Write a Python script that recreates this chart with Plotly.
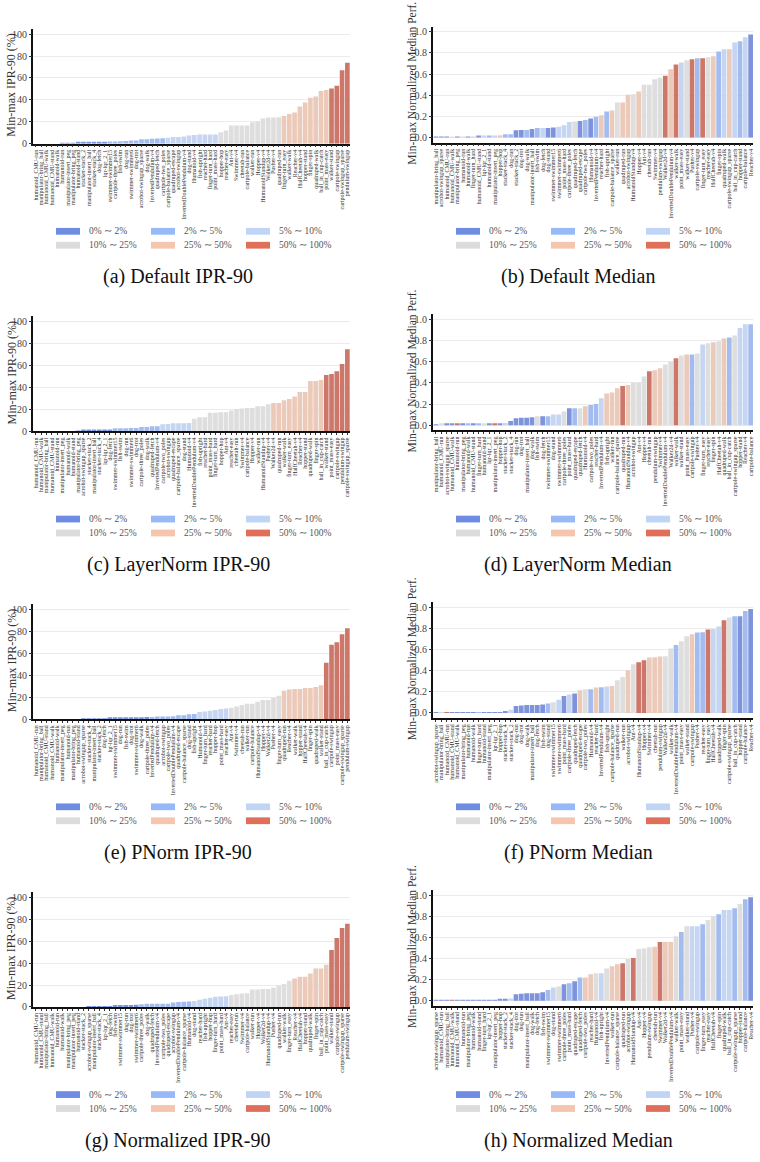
import plotly.graph_objects as go

W, H = 760, 1162
FONT = "Liberation Serif"

BUCKET_NAMES = ["0% \u223c 2%", "2% \u223c 5%", "5% \u223c 10%",
                "10% \u223c 25%", "25% \u223c 50%", "50% \u223c 100%"]
BUCKET_EDGES = [2, 5, 10, 25, 50]
BAR_COLORS = ["#7d93db", "#a3bcef", "#c6d6f2", "#dedede", "#ebcaba", "#cc7769"]
LEGEND_COLORS = ["#6e8de2", "#98b9f8", "#c0d4f5", "#dcdcdc", "#f5c5ad", "#e06f5a"]

# ---------------- (a) Default IPR-90 ----------------
A_LABELS = ["humanoid_CMU-run","manipulator-bring_ball","humanoid_CMU-walk","humanoid_CMU-stand","humanoid-walk","humanoid-run","manipulator-insert_peg","manipulator-bring_peg","humanoid-stand","stacker-stack_2","manipulator-insert_ball","stacker-stack_4","dog-fetch","lqr-lqr_2_1","swimmer-swimmer15","cartpole-three_poles","fish-swim","dog-run","swimmer-swimmer6","dog-trot","acrobot-swingup_sparse","dog-walk","InvertedPendulum-v4","quadruped-fetch","cartpole-two_poles","cartpole-balance_sparse","quadruped-escape","acrobot-swingup","InvertedDoublePendulum-v4","dog-stand","Humanoid-v4","fish-upright","reacher-hard","finger-turn_hard","point_mass-hard","hopper-hop","reacher-easy","Ant-v4","Swimmer-v4","cheetah-run","cartpole-balance","walker-run","Hopper-v4","HumanoidStandup-v4","Walker2d-v4","Pusher-v4","quadruped-run","finger-turn_easy","walker-walk","Reacher-v4","HalfCheetah-v4","hopper-stand","finger-spin","quadruped-walk","ball_in_cup-catch","point_mass-easy","walker-stand","cartpole-swingup","cartpole-swingup_sparse","pendulum-swingup"]
A_VALS = [0, 0, 0, 0, 0, 0.2, 0.3, 0.5, 1, 1, 1, 1, 1.2, 1.3,
          2, 2.1, 2.3, 2.5, 3, 3, 4, 4, 4.5, 4.8, 4.9,
          5.5, 6, 6, 6.5, 7.5, 8, 8.3, 8.3, 8.3, 8.3,
          10.5, 12, 16.5, 16.5, 16.5, 16.6, 19.5, 20.5, 23, 24, 24, 24.2,
          25.2, 27, 28.5, 34, 37.5, 42, 43, 48, 49,
          50.3, 53, 67, 74]

# ---------------- (b) Default Median ----------------
B_LABELS = ["manipulator-bring_ball","acrobot-swingup_sparse","humanoid_CMU-run","humanoid_CMU-walk","manipulator-bring_peg","humanoid-run","humanoid-walk","finger-turn_hard","humanoid_CMU-stand","lqr-lqr_2_1","humanoid-stand","manipulator-insert_peg","hopper-hop","stacker-stack_4","dog-run","stacker-stack_2","dog-trot","dog-walk","manipulator-insert_ball","fish-swim","dog-fetch","dog-stand","swimmer-swimmer15","swimmer-swimmer6","point_mass-hard","cartpole-three_poles","quadruped-fetch","quadruped-escape","cartpole-two_poles","Humanoid-v4","InvertedPendulum-v4","reacher-hard","fish-upright","cartpole-balance_sparse","walker-run","quadruped-run","acrobot-swingup","HumanoidStandup-v4","Hopper-v4","Ant-v4","cheetah-run","Swimmer-v4","pendulum-swingup","Walker2d-v4","InvertedDoublePendulum-v4","walker-walk","point_mass-easy","walker-stand","Pusher-v4","cartpole-swingup","finger-turn_easy","reacher-easy","HalfCheetah-v4","finger-spin","quadruped-walk","cartpole-swingup_sparse","ball_in_cup-catch","hopper-stand","cartpole-balance","Reacher-v4"]
B_VALS = [0.005, 0.005, 0.005, 0.005, 0.005, 0.006, 0.006, 0.007, 0.008, 0.008,
          0.01, 0.015, 0.02, 0.03, 0.03, 0.068, 0.07, 0.07, 0.08, 0.088,
          0.09, 0.09, 0.095, 0.1, 0.115, 0.145, 0.15, 0.155, 0.165, 0.18,
          0.195, 0.21, 0.245, 0.255, 0.33, 0.33, 0.405, 0.41, 0.435, 0.5,
          0.5, 0.55, 0.565, 0.585, 0.645, 0.69, 0.71, 0.73, 0.74, 0.75,
          0.75, 0.76, 0.77, 0.815, 0.835, 0.835, 0.9, 0.91, 0.95, 0.975]
B_BUCKETS = [0, 0, 0, 3, 0, 3, 0, 4, 0, 2,
             1, 2, 4, 1, 1, 0, 0, 1, 0, 1,
             2, 0, 0, 2, 2, 2, 3, 0, 1, 0,
             1, 4, 1, 4, 3, 4, 4, 3, 4, 3,
             3, 3, 3, 5, 4, 5, 2, 3, 5, 1,
             5, 3, 4, 1, 2, 4, 2, 1, 2, 0]

# ---------------- (c) LayerNorm IPR-90 ----------------
C_LABELS = ["humanoid_CMU-run","humanoid_CMU-walk","manipulator-bring_ball","humanoid_CMU-stand","humanoid-run","manipulator-insert_peg","humanoid-walk","humanoid-stand","manipulator-bring_peg","acrobot-swingup_sparse","stacker-stack_2","manipulator-insert_ball","stacker-stack_4","lqr-lqr_2_1","dog-fetch","swimmer-swimmer15","fish-swim","dog-run","swimmer-swimmer6","dog-trot","cartpole-three_poles","dog-walk","quadruped-fetch","InvertedPendulum-v4","cartpole-two_poles","acrobot-swingup","quadruped-escape","cartpole-balance_sparse","dog-stand","Humanoid-v4","InvertedDoublePendulum-v4","fish-upright","reacher-hard","point_mass-hard","finger-turn_hard","hopper-hop","Ant-v4","reacher-easy","cheetah-run","Swimmer-v4","cartpole-balance","Hopper-v4","walker-run","HumanoidStandup-v4","Pusher-v4","Walker2d-v4","quadruped-run","walker-walk","finger-turn_easy","HalfCheetah-v4","Reacher-v4","hopper-stand","quadruped-walk","finger-spin","ball_in_cup-catch","walker-stand","point_mass-easy","cartpole-swingup","pendulum-swingup","cartpole-swingup_sparse"]
C_VALS = [0, 0, 0, 0, 0, 0, 0, 0, 0.1, 1, 1, 1, 1, 1, 1.1,
          3, 3, 3, 3.1, 3.1, 4, 4, 4.8, 4.8,
          6.5, 6.8, 7.5, 7.5, 7.5, 7.8,
          11.5, 13, 13, 17, 17, 17.5, 17.5, 19, 20.5, 21, 21.5, 21.5, 23, 23, 24.8,
          26, 26, 28.5, 29.5, 32, 36, 36, 46, 46, 47,
          51.5, 52.5, 55, 61.5, 75]

# ---------------- (d) LayerNorm Median ----------------
D_LABELS = ["manipulator-bring_ball","humanoid_CMU-run","acrobot-swingup_sparse","humanoid_CMU-walk","humanoid-run","manipulator-bring_peg","humanoid-walk","humanoid_CMU-stand","finger-turn_hard","humanoid-stand","lqr-lqr_2_1","manipulator-insert_peg","hopper-hop","stacker-stack_2","stacker-stack_4","dog-run","dog-trot","manipulator-insert_ball","dog-walk","fish-swim","dog-fetch","swimmer-swimmer15","dog-stand","swimmer-swimmer6","cartpole-three_poles","point_mass-hard","quadruped-escape","quadruped-fetch","Humanoid-v4","cartpole-two_poles","reacher-hard","InvertedPendulum-v4","fish-upright","walker-run","cartpole-balance_sparse","quadruped-run","HumanoidStandup-v4","acrobot-swingup","Ant-v4","Hopper-v4","cheetah-run","pendulum-swingup","Swimmer-v4","InvertedDoublePendulum-v4","Walker2d-v4","walker-walk","walker-stand","point_mass-easy","cartpole-swingup","Pusher-v4","finger-turn_easy","reacher-easy","finger-spin","HalfCheetah-v4","quadruped-walk","ball_in_cup-catch","cartpole-swingup_sparse","hopper-stand","Reacher-v4","cartpole-balance"]
D_VALS = [0.004, 0.01, 0.01, 0.01, 0.01, 0.01, 0.01, 0.01, 0.01, 0.01,
          0.01, 0.012, 0.012, 0.02, 0.04, 0.065, 0.07, 0.07, 0.075, 0.085,
          0.085, 0.085, 0.1, 0.1, 0.13, 0.16, 0.16, 0.16, 0.18, 0.19,
          0.2, 0.255, 0.3, 0.31, 0.35, 0.37, 0.38, 0.405, 0.405, 0.46,
          0.51, 0.52, 0.54, 0.575, 0.6, 0.635, 0.66, 0.67, 0.67, 0.68,
          0.765, 0.775, 0.785, 0.795, 0.82, 0.83, 0.85, 0.92, 0.955, 0.955]
D_BUCKETS = [0, 3, 0, 0, 5, 0, 1, 0, 1, 3,
             0, 5, 0, 2, 0, 0, 0, 0, 0, 3,
             0, 1, 2, 2, 3, 0, 1, 3, 4, 1,
             1, 2, 4, 4, 4, 5, 4, 3, 3, 3,
             5, 4, 4, 3, 3, 5, 3, 4, 1, 3,
             2, 3, 4, 3, 4, 1, 3, 2, 2, 1]

# ---------------- (e) PNorm IPR-90 ----------------
E_LABELS = ["humanoid_CMU-run","manipulator-bring_ball","humanoid_CMU-stand","humanoid_CMU-walk","humanoid-walk","manipulator-insert_peg","humanoid-run","manipulator-bring_peg","humanoid-stand","acrobot-swingup_sparse","stacker-stack_4","manipulator-insert_ball","stacker-stack_2","dog-fetch","lqr-lqr_2_1","swimmer-swimmer15","dog-run","fish-swim","dog-trot","swimmer-swimmer6","dog-walk","cartpole-three_poles","InvertedPendulum-v4","quadruped-fetch","acrobot-swingup","cartpole-two_poles","InvertedDoublePendulum-v4","quadruped-escape","cartpole-balance_sparse","dog-stand","fish-upright","Humanoid-v4","finger-turn_hard","reacher-hard","hopper-hop","point_mass-hard","reacher-easy","Ant-v4","Swimmer-v4","cheetah-run","walker-run","cartpole-balance","HumanoidStandup-v4","Hopper-v4","Walker2d-v4","Pusher-v4","finger-turn_easy","quadruped-run","Reacher-v4","walker-walk","hopper-stand","HalfCheetah-v4","finger-spin","quadruped-walk","walker-stand","ball_in_cup-catch","cartpole-swingup","point_mass-easy","cartpole-swingup_sparse","pendulum-swingup"]
E_VALS = [0, 0, 0, 0, 0, 0, 0, 0, 0, 0.1, 0.2,
          0.8, 0.9, 0.9, 1.0, 1.0, 1.2, 1.5, 1.8, 1.8, 1.8, 1.9,
          2.1, 2.5, 2.5, 2.5, 2.6, 3.5, 3.5, 4.5, 4.7,
          6.5, 7, 7.8, 8.5, 9.3, 9.8,
          10.5, 11.5, 13, 14, 14, 16, 17.5, 17.5, 19.5, 21.5,
          26, 27, 27.5, 27.5, 28.5, 28.5, 29.5, 31,
          51.5, 67.9, 70.3, 77.6, 83]

# ---------------- (f) PNorm Median ----------------
F_LABELS = ["acrobot-swingup_sparse","manipulator-bring_ball","humanoid_CMU-run","humanoid_CMU-stand","humanoid_CMU-walk","manipulator-bring_peg","humanoid-run","humanoid-walk","finger-turn_hard","humanoid-stand","manipulator-insert_peg","lqr-lqr_2_1","hopper-hop","stacker-stack_4","stacker-stack_2","dog-run","dog-trot","dog-walk","manipulator-insert_ball","dog-fetch","fish-swim","dog-stand","swimmer-swimmer15","swimmer-swimmer6","point_mass-hard","cartpole-three_poles","quadruped-fetch","quadruped-escape","cartpole-two_poles","Humanoid-v4","reacher-hard","InvertedPendulum-v4","fish-upright","cartpole-balance_sparse","quadruped-run","walker-run","acrobot-swingup","Ant-v4","HumanoidStandup-v4","Hopper-v4","Swimmer-v4","cheetah-run","pendulum-swingup","Walker2d-v4","walker-walk","InvertedDoublePendulum-v4","point_mass-easy","walker-stand","cartpole-swingup","Pusher-v4","reacher-easy","finger-turn_easy","HalfCheetah-v4","quadruped-walk","finger-spin","cartpole-swingup_sparse","ball_in_cup-catch","hopper-stand","cartpole-balance","Reacher-v4"]
F_VALS = [0.005, 0.005, 0.006, 0.006, 0.006, 0.006, 0.006, 0.006, 0.007, 0.007,
          0.007, 0.007, 0.007, 0.01, 0.03, 0.065, 0.07, 0.075, 0.075, 0.075,
          0.08, 0.09, 0.1, 0.125, 0.16, 0.175, 0.185, 0.215, 0.225, 0.225,
          0.24, 0.243, 0.25, 0.255, 0.31, 0.34, 0.405, 0.46, 0.48, 0.5,
          0.525, 0.527, 0.535, 0.537, 0.61, 0.643, 0.68, 0.727, 0.745, 0.763,
          0.765, 0.79, 0.795, 0.82, 0.877, 0.905, 0.915, 0.917, 0.965, 0.984]
F_BUCKETS = [0, 2, 5, 0, 0, 0, 0, 0, 1, 0,
             0, 0, 0, 0, 2, 0, 0, 0, 0, 0,
             0, 1, 3, 2, 0, 2, 0, 4, 3, 1,
             4, 1, 2, 4, 3, 3, 4, 3, 5, 5,
             4, 4, 4, 3, 3, 1, 3, 3, 4, 1,
             1, 5, 2, 2, 5, 3, 1, 0, 1, 0]

# ---------------- (g) Normalized IPR-90 ----------------
G_LABELS = ["humanoid_CMU-run","humanoid_CMU-stand","manipulator-bring_ball","humanoid_CMU-walk","humanoid-run","humanoid-walk","manipulator-bring_peg","manipulator-insert_peg","humanoid-stand","stacker-stack_2","acrobot-swingup_sparse","manipulator-insert_ball","stacker-stack_4","lqr-lqr_2_1","dog-fetch","fish-swim","swimmer-swimmer15","dog-run","dog-trot","swimmer-swimmer6","cartpole-three_poles","dog-walk","quadruped-fetch","InvertedPendulum-v4","cartpole-two_poles","quadruped-escape","acrobot-swingup","InvertedDoublePendulum-v4","cartpole-balance_sparse","Humanoid-v4","dog-stand","reacher-hard","fish-upright","hopper-hop","finger-turn_hard","point_mass-hard","Ant-v4","reacher-easy","cheetah-run","Swimmer-v4","cartpole-balance","walker-run","Hopper-v4","Walker2d-v4","HumanoidStandup-v4","Pusher-v4","quadruped-run","walker-walk","finger-turn_easy","Reacher-v4","HalfCheetah-v4","hopper-stand","quadruped-walk","finger-spin","ball_in_cup-catch","point_mass-easy","walker-stand","cartpole-swingup","cartpole-swingup_sparse","pendulum-swingup"]
G_VALS = [0, 0, 0, 0, 0, 0, 0, 0, 0, 0,
          0.3, 0.5, 0.6, 0.8, 0.9, 1.0, 1.0, 1.2, 1.8, 1.9,
          2.5, 2.9, 3, 3, 3, 3, 4, 4.6, 4.7, 4.9,
          5.5, 6.6, 7.6, 8.5, 9.3, 9.5, 9.8,
          11, 11.5, 12.3, 12.5, 16, 16, 16.5, 16.5, 17.5, 19.5, 21, 24,
          26, 27.5, 27.5, 30.5, 35, 35, 38.5,
          52, 63, 72, 76]

# ---------------- (h) Normalized Median ----------------
H_LABELS = ["acrobot-swingup_sparse","humanoid_CMU-run","manipulator-bring_ball","humanoid_CMU-walk","humanoid_CMU-stand","humanoid-run","manipulator-bring_peg","humanoid-walk","humanoid-stand","finger-turn_hard","lqr-lqr_2_1","manipulator-insert_peg","hopper-hop","stacker-stack_2","stacker-stack_4","dog-trot","dog-run","manipulator-insert_ball","dog-walk","dog-fetch","fish-swim","swimmer-swimmer15","dog-stand","swimmer-swimmer6","cartpole-three_poles","point_mass-hard","quadruped-escape","quadruped-fetch","cartpole-two_poles","reacher-hard","Humanoid-v4","fish-upright","InvertedPendulum-v4","walker-run","cartpole-balance_sparse","quadruped-run","acrobot-swingup","HumanoidStandup-v4","Ant-v4","Hopper-v4","pendulum-swingup","cheetah-run","Swimmer-v4","Walker2d-v4","InvertedDoublePendulum-v4","walker-walk","point_mass-easy","walker-stand","Pusher-v4","cartpole-swingup","finger-turn_easy","reacher-easy","HalfCheetah-v4","finger-spin","quadruped-walk","ball_in_cup-catch","cartpole-swingup_sparse","hopper-stand","cartpole-balance","Reacher-v4"]
H_VALS = [0.005, 0.005, 0.005, 0.006, 0.006, 0.006, 0.006, 0.006, 0.007, 0.007,
          0.007, 0.007, 0.008, 0.008, 0.02, 0.06, 0.065, 0.07, 0.07, 0.07,
          0.08, 0.1, 0.125, 0.135, 0.155, 0.165, 0.185, 0.22, 0.22, 0.25,
          0.26, 0.26, 0.305, 0.325, 0.345, 0.355, 0.395, 0.405, 0.49, 0.495,
          0.505, 0.51, 0.555, 0.555, 0.555, 0.61, 0.65, 0.705, 0.705, 0.705,
          0.725, 0.765, 0.8, 0.82, 0.86, 0.86, 0.875, 0.915, 0.96, 0.98]
H_BUCKETS = [0, 0, 0, 5, 0, 0, 0, 0, 0, 0,
             0, 0, 0, 0, 2, 0, 0, 0, 0, 0,
             0, 1, 2, 3, 0, 1, 0, 1, 4, 4,
             3, 2, 3, 4, 4, 5, 3, 5, 3, 3,
             3, 4, 5, 4, 4, 3, 1, 3, 2, 2,
             1, 3, 3, 1, 2, 2, 1, 3, 1, 0]

CAPTIONS = ["(a) Default IPR-90", "(b) Default Median",
            "(c) LayerNorm IPR-90", "(d) LayerNorm Median",
            "(e) PNorm IPR-90", "(f) PNorm Median",
            "(g) Normalized IPR-90", "(h) Normalized Median"]
IPR_TICKS = [0, 20, 40, 60, 80, 100]
MED_TICKS = [0.0, 0.2, 0.4, 0.6, 0.8, 1.0]


def ipr_bucket(v):
    b = 0
    for e in BUCKET_EDGES:
        if v >= e:
            b += 1
    return b


panels = [
    (A_LABELS, A_VALS, None), (B_LABELS, B_VALS, B_BUCKETS),
    (C_LABELS, C_VALS, None), (D_LABELS, D_VALS, D_BUCKETS),
    (E_LABELS, E_VALS, None), (F_LABELS, F_VALS, F_BUCKETS),
    (G_LABELS, G_VALS, None), (H_LABELS, H_VALS, H_BUCKETS),
]

ROW_STEP = 289
COL_X = [(33.3, 350.0), (433.3, 753.3)]
COL_OFF = [0, 400]


def px_x(x):
    return x / W


def px_y(y):
    return 1 - y / H


fig = go.Figure()
layout = dict(width=W, height=H, margin=dict(l=0, r=0, t=0, b=0),
              plot_bgcolor="white", paper_bgcolor="white", showlegend=False,
              font=dict(family=FONT, color="#333"), bargap=0.12)
shapes = []
annotations = []

for k, (labels, vals, buckets) in enumerate(panels):
    row, col = divmod(k, 2)
    n = len(vals)
    if buckets is None:
        bks = [ipr_bucket(v) for v in vals]
    else:
        bks = buckets
    colors = [BAR_COLORS[b] for b in bks]
    idx = "" if k == 0 else str(k + 1)
    fig.add_trace(go.Bar(x=list(range(n)), y=vals, marker=dict(color=colors, line=dict(width=0)),
                         width=0.88, xaxis="x" + idx, yaxis="y" + idx, showlegend=False,
                         hovertext=labels))
    if col == 0:
        top, bot = 28.8 + ROW_STEP * row, 144.3 + ROW_STEP * row
        yrange = [0, 105]
        tickvals = IPR_TICKS
        ticktext = [str(t) for t in IPR_TICKS]
        ylab = "Min-max IPR-90 (%)"
        ylab_x = 11.5
        ylab_size = 12
    else:
        top, bot = 26.7 + ROW_STEP * row, 143.3 + ROW_STEP * row
        yrange = [-0.05, 1.05]
        tickvals = MED_TICKS
        ticktext = ["%.1f" % t for t in MED_TICKS]
        ylab = "Min-max Normalized Median Perf."
        ylab_x = 412
        ylab_size = 11.5
    x0, x1 = COL_X[col]
    layout["xaxis" + idx] = dict(
        domain=[px_x(x0), px_x(x1)], anchor="y" + idx, range=[-0.5, n - 0.5],
        tickmode="array", tickvals=list(range(n)), ticktext=labels[:n], tickangle=-90,
        tickfont=dict(size=6, color="#333", family=FONT), showline=True, linecolor="#111",
        linewidth=1.5, ticks="outside", ticklen=2, tickwidth=0.6, tickcolor="#333",
        showgrid=False, zeroline=False, fixedrange=True)
    layout["yaxis" + idx] = dict(
        domain=[px_y(bot), px_y(top)], anchor="x" + idx, range=yrange,
        tickmode="array", tickvals=tickvals, ticktext=ticktext,
        tickfont=dict(size=10, color="#444", family=FONT), showline=True, linecolor="#111",
        linewidth=1.5, ticks="outside", ticklen=2.5, tickcolor="#333",
        showgrid=True, gridcolor="#ebebeb", gridwidth=1, zeroline=False, fixedrange=True)
    annotations.append(dict(text=ylab, x=px_x(ylab_x), y=px_y((top + bot) / 2 - 1),
                            xref="paper", yref="paper", textangle=-90, showarrow=False,
                            xanchor="center", yanchor="middle",
                            font=dict(size=ylab_size, color="#333", family=FONT)))
    # legend
    off = COL_OFF[col]
    for j, name in enumerate(BUCKET_NAMES):
        lr, lc = divmod(j, 3)
        cy = 232.3 + 14 * lr + ROW_STEP * row
        px0 = 56 + 95 * lc + off
        shapes.append(dict(type="rect", xref="paper", yref="paper",
                           x0=px_x(px0), x1=px_x(px0 + 24),
                           y0=px_y(cy + 3.4), y1=px_y(cy - 3.4),
                           fillcolor=LEGEND_COLORS[j], line=dict(width=0)))
        annotations.append(dict(text=name, x=px_x(px0 + 31), y=px_y(cy), xref="paper",
                                yref="paper", showarrow=False, xanchor="left", yanchor="middle",
                                font=dict(size=9.5, color="#555", family=FONT)))
    # caption
    annotations.append(dict(text=CAPTIONS[k], x=px_x(178 + off), y=px_y(278 + ROW_STEP * row),
                            xref="paper", yref="paper", showarrow=False,
                            xanchor="center", yanchor="middle",
                            font=dict(size=20, color="#111", family=FONT)))

layout["shapes"] = shapes
layout["annotations"] = annotations
fig.update_layout(**layout)
fig.write_html("out.html")
